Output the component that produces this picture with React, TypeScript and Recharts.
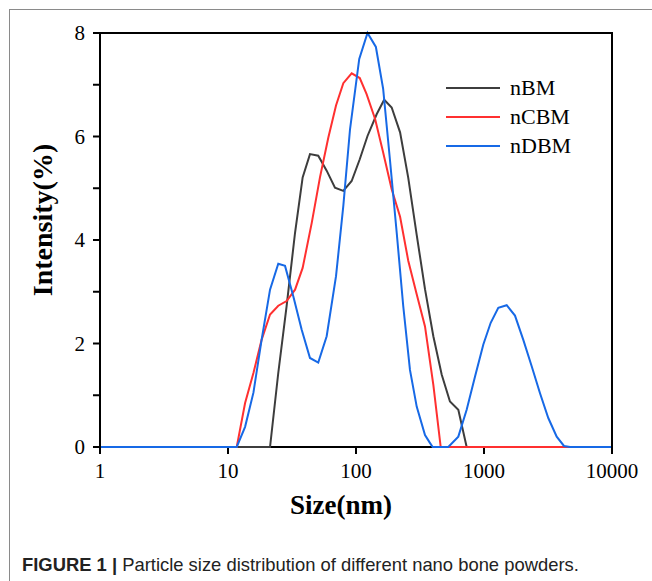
import { LineChart, Line, XAxis, YAxis } from 'recharts'

// sizes (nm) and intensity (%)
const nbmSize = [1, 21.3, 24.7, 28.7, 33.4, 38.3, 43.7, 50.7, 59.0, 68.5, 79.6, 92.5, 107, 123, 145, 166, 190, 221, 256, 298, 346, 402, 467, 542, 630, 732, 10000]
const nbmValue = [0, 0, 1.43, 2.72, 4.14, 5.21, 5.66, 5.63, 5.34, 5.01, 4.95, 5.14, 5.56, 6.01, 6.43, 6.71, 6.56, 6.08, 5.2, 4.1, 3.05, 2.14, 1.4, 0.88, 0.72, 0, 0]

const ncbmSize = [1, 11.7, 13.6, 15.8, 18.3, 21.3, 24.7, 28.7, 33.4, 38.3, 45.1, 52.3, 60.8, 69.8, 79.6, 92.5, 107, 121, 141, 163, 190, 221, 256, 298, 346, 402, 459, 10000]
const ncbmValue = [0, 0, 0.85, 1.43, 2.07, 2.56, 2.73, 2.82, 3.04, 3.46, 4.33, 5.21, 5.98, 6.6, 7.03, 7.22, 7.13, 6.82, 6.34, 5.69, 4.98, 4.45, 3.6, 2.95, 2.33, 1.2, 0, 0]

const ndbmSize = [1, 11.7, 13.6, 15.8, 18.3, 21.3, 24.7, 27.9, 32.4, 37.6, 43.7, 50.7, 59.0, 69.8, 79.6, 89.8, 106, 123, 143, 163, 184, 208, 234, 264, 298, 346, 378, 397, 526, 630, 732, 851, 988, 1128, 1293, 1504, 1746, 2028, 2358, 2739, 3179, 3698, 4217, 4699, 10000]
const ndbmValue = [0, 0, 0.39, 1.05, 2.07, 3.04, 3.54, 3.5, 2.91, 2.27, 1.72, 1.63, 2.14, 3.3, 4.66, 6.14, 7.5, 8.0, 7.73, 6.92, 5.56, 4.14, 2.72, 1.49, 0.78, 0.23, 0.08, 0, 0, 0.2, 0.72, 1.36, 1.98, 2.4, 2.69, 2.74, 2.54, 2.07, 1.56, 1.04, 0.56, 0.2, 0.02, 0, 0]

const xTicks = [1, 10, 100, 1000, 10000]
const yTicks = [0, 1, 2, 3, 4, 5, 6, 7, 8]

const toData = (sizes: number[], values: number[]) => sizes.map((s, i) => ({ size: s, value: values[i] }))

const series = [
  { name: 'nBM', color: '#3d3d3d', data: toData(nbmSize, nbmValue) },
  { name: 'nCBM', color: '#ff3030', data: toData(ncbmSize, ncbmValue) },
  { name: 'nDBM', color: '#1769e6', data: toData(ndbmSize, ndbmValue) },
]

const serif = '"Liberation Serif", "Times New Roman", serif'

export default function App() {
  return (
    <div style={{ position: 'absolute', left: 0, top: 0, width: 652, height: 581, background: '#fff' }}>
      <div style={{ position: 'absolute', left: 9, top: 9, right: 0, bottom: 0, borderLeft: '1.5px solid #8a8a8a', borderTop: '1.5px solid #8a8a8a' }} />
      <div style={{ position: 'absolute', left: 0, top: 0 }}>
        <LineChart width={652} height={581} margin={{ top: 33, right: 40, left: 10, bottom: 94 }}>
          <XAxis
            dataKey="size"
            type="number"
            scale="log"
            domain={[1, 10000]}
            ticks={xTicks}
            allowDataOverflow
            height={40}
            axisLine={{ stroke: '#000', strokeWidth: 2 }}
            tickLine={{ stroke: '#000', strokeWidth: 2 }}
            tickSize={7}
            tickMargin={9}
            tick={{ fontFamily: serif, fontSize: 21, fill: '#000' }}
            label={{
              content: () => (
                <text x={341} y={505} textAnchor="middle" dominantBaseline="central" fontFamily={serif} fontSize={27} fontWeight="bold" fill="#000">
                  Size(nm)
                </text>
              ),
            }}
          />
          <YAxis
            type="number"
            domain={[0, 8]}
            ticks={yTicks}
            width={90}
            axisLine={false}
            tickLine={{ stroke: '#000', strokeWidth: 2 }}
            tickSize={7}
            tickMargin={8}
            tickFormatter={(v: number) => (v % 2 === 0 ? String(v) : '')}
            tick={{ fontFamily: serif, fontSize: 21, fill: '#000' }}
            label={{
              content: () => (
                <text x={42} y={220} transform="rotate(-90 42 220)" textAnchor="middle" dominantBaseline="central" fontFamily={serif} fontSize={28} fontWeight="bold" fill="#000">
                  Intensity(%)
                </text>
              ),
            }}
          />
          {series.map((s) => (
            <Line
              key={s.name}
              data={s.data}
              dataKey="value"
              name={s.name}
              type="linear"
              stroke={s.color}
              strokeWidth={2}
              dot={false}
              zIndex={600}
              isAnimationActive={false}
            />
          ))}
        </LineChart>
      </div>
      {/* top, left and right edges of the plot frame; the bottom edge is the x axis line */}
      <div style={{ position: 'absolute', left: 99, top: 32, width: 514, height: 416, boxSizing: 'border-box', borderTop: '2px solid #000', borderLeft: '2px solid #000', borderRight: '2px solid #000', pointerEvents: 'none' }} />
      <div style={{ position: 'absolute', left: 446, top: 73, fontFamily: serif, fontSize: 22, color: '#000' }}>
        {series.map((s) => (
          <div key={s.name} style={{ display: 'flex', alignItems: 'center', height: 29 }}>
            <svg width={58} height={4} style={{ marginRight: 6 }}>
              <line x1={0} y1={2} x2={54} y2={2} stroke={s.color} strokeWidth={2} />
            </svg>
            <span>{s.name}</span>
          </div>
        ))}
      </div>
      <div style={{ position: 'absolute', left: 22, top: 554, fontFamily: '"Liberation Sans", Arial, sans-serif', fontSize: 18.4, color: '#222', whiteSpace: 'nowrap' }}>
        <b>FIGURE 1 |</b> Particle size distribution of different nano bone powders.
      </div>
    </div>
  )
}
